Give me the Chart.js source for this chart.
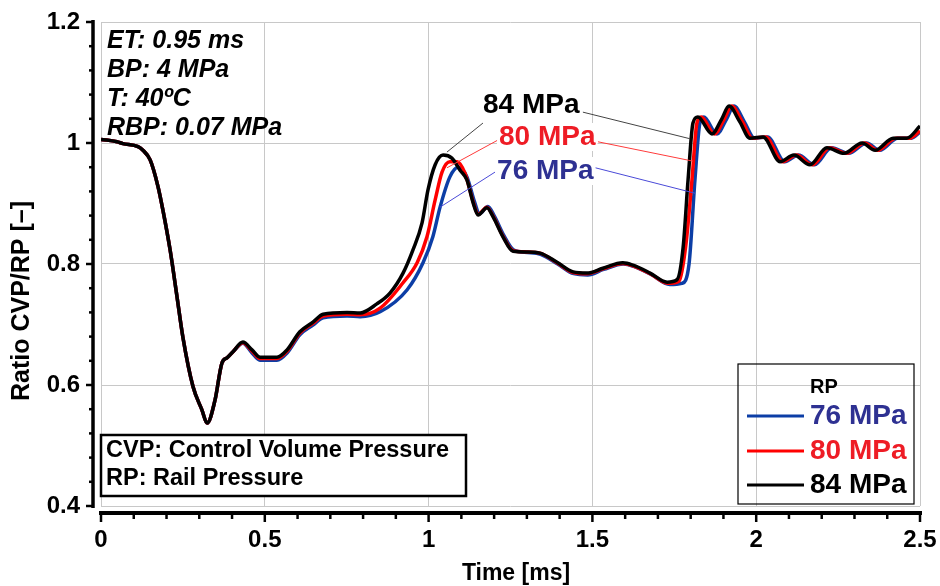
<!DOCTYPE html>
<html><head><meta charset="utf-8">
<script src="https://cdn.jsdelivr.net/npm/chart.js@4.4.1/dist/chart.umd.min.js"></script>
<style>html,body{margin:0;padding:0;background:#fff;}#wrap{width:940px;height:586px;}</style>
</head><body><div id="wrap"><canvas id="c" width="940" height="586"></canvas></div>
<script>
// ---- data ----
const xTicks = [0, 0.5, 1, 1.5, 2, 2.5];
const yTicks = [0.4, 0.6, 0.8, 1, 1.2];
const seriesNames = ['76 MPa', '80 MPa', '84 MPa'];
const xTitle = 'Time [ms]';
const yTitle = 'Ratio CVP/RP [\u2013]';

const t84 = [0,0.049,0.067,0.113,0.128,0.150,0.174,0.189,0.211,0.232,0.250,0.281,0.308,0.324,0.348,0.369,0.385,0.403,0.433,0.461,0.485,0.537,0.568,0.607,0.647,0.678,0.751,0.791,0.842,0.882,0.922,0.952,0.980,0.998,1.020,1.044,1.071,1.096,1.117,1.136,1.151,1.178,1.197,1.227,1.258,1.300,1.340,1.392,1.441,1.484,1.532,1.593,1.624,1.676,1.728,1.758,1.777,1.792,1.807,1.822,1.865,1.895,1.917,1.950,1.981,2.021,2.073,2.115,2.164,2.216,2.268,2.323,2.363,2.418,2.460,2.500];
const v84 = [1.006,1.002,0.999,0.994,0.988,0.972,0.928,0.889,0.823,0.746,0.679,0.597,0.559,0.537,0.575,0.636,0.645,0.655,0.671,0.658,0.646,0.646,0.658,0.688,0.704,0.717,0.720,0.719,0.734,0.752,0.785,0.823,0.868,0.922,0.964,0.980,0.975,0.955,0.939,0.901,0.881,0.893,0.878,0.845,0.821,0.820,0.818,0.803,0.787,0.785,0.793,0.802,0.798,0.785,0.770,0.774,0.828,0.939,1.033,1.043,1.015,1.040,1.061,1.035,1.008,1.010,0.969,0.980,0.964,0.992,0.983,1.000,0.988,1.008,1.008,1.028];

const t80 = [0,0.049,0.067,0.113,0.128,0.150,0.174,0.189,0.211,0.232,0.250,0.281,0.308,0.324,0.348,0.369,0.385,0.403,0.433,0.461,0.485,0.537,0.568,0.607,0.647,0.678,0.751,0.791,0.852,0.922,0.965,0.995,1.020,1.041,1.065,1.087,1.111,1.136,1.151,1.178,1.197,1.227,1.258,1.300,1.340,1.392,1.441,1.484,1.532,1.593,1.624,1.676,1.732,1.765,1.785,1.804,1.819,1.832,1.873,1.903,1.925,1.958,1.989,2.029,2.081,2.123,2.172,2.224,2.276,2.331,2.371,2.426,2.468,2.500];
const v80 = [1.006,1.002,0.999,0.994,0.988,0.972,0.928,0.889,0.823,0.746,0.679,0.597,0.559,0.537,0.575,0.636,0.645,0.655,0.670,0.656,0.644,0.644,0.656,0.686,0.702,0.714,0.717,0.716,0.727,0.769,0.802,0.845,0.906,0.952,0.969,0.969,0.950,0.903,0.882,0.894,0.879,0.846,0.822,0.820,0.818,0.802,0.786,0.784,0.792,0.801,0.797,0.784,0.768,0.772,0.830,0.939,1.033,1.043,1.015,1.040,1.061,1.035,1.008,1.010,0.969,0.980,0.964,0.992,0.983,1.000,0.988,1.008,1.008,1.020];

const t76 = [0,0.049,0.067,0.113,0.128,0.150,0.174,0.189,0.211,0.232,0.250,0.281,0.308,0.324,0.348,0.369,0.385,0.403,0.433,0.461,0.485,0.537,0.568,0.607,0.647,0.678,0.751,0.791,0.852,0.934,0.983,1.013,1.035,1.065,1.090,1.117,1.140,1.155,1.181,1.200,1.230,1.260,1.302,1.342,1.394,1.443,1.486,1.534,1.595,1.626,1.678,1.736,1.773,1.795,1.813,1.828,1.840,1.880,1.910,1.932,1.964,1.995,2.035,2.087,2.129,2.178,2.230,2.282,2.337,2.377,2.432,2.474,2.500];
const v76 = [1.006,1.002,0.999,0.994,0.988,0.972,0.928,0.889,0.823,0.746,0.679,0.597,0.559,0.537,0.575,0.636,0.645,0.655,0.669,0.653,0.641,0.641,0.653,0.683,0.699,0.711,0.714,0.713,0.721,0.757,0.802,0.845,0.894,0.944,0.960,0.944,0.903,0.883,0.895,0.880,0.847,0.823,0.819,0.816,0.800,0.784,0.782,0.791,0.800,0.796,0.783,0.766,0.768,0.800,0.939,1.033,1.043,1.015,1.040,1.061,1.035,1.008,1.010,0.969,0.980,0.964,0.992,0.983,1.000,0.988,1.008,1.008,1.018];

// callout annotations (data coordinates)
const calloutText  = ['84 MPa', '80 MPa', '76 MPa'];
const calloutAt    = [[1.166, 1.0496], [1.215, 0.9967], [1.209, 0.9405]];
const calloutLeftLeader  = [[1.056, 0.985, 1.166, 1.033], [1.056, 0.959, 1.212, 1.005], [1.035, 0.894, 1.203, 0.952]];
const calloutRightLeader = [[1.471, 1.051, 1.798, 1.007], [1.517, 1.002, 1.807, 0.970], [1.502, 0.960, 1.813, 0.917]];

const infoLines = ['ET: 0.95 ms', 'BP: 4 MPa', 'T: 40\u00BAC', 'RBP: 0.07 MPa'];
const noteLines = ['CVP: Control Volume Pressure', 'RP: Rail Pressure'];
const legendTitle = 'RP';

// ---- styles ----
const lineColors = {'76 MPa': '#0c3ea6', '80 MPa': '#ff0000', '84 MPa': '#000000'};
const textColors = {'76 MPa': '#2e3192', '80 MPa': '#ee1c25', '84 MPa': '#000000'};
const leaderColors = {'76 MPa': '#4a4ad8', '80 MPa': '#ff3b3b', '84 MPa': '#444444'};
const FONT = "'Liberation Sans', Arial, sans-serif";

function pts(t, v) { return t.map((x, i) => ({x: x, y: v[i]})); }
function fmt(v) { return String(Math.round(v * 100) / 100); }

const deco = {
  id: 'deco',
  afterDatasetsDraw(chart) {
    const {ctx, scales: {x, y}} = chart;
    ctx.save();
    calloutText.forEach((txt, i) => {
      ctx.strokeStyle = leaderColors[txt];
      ctx.lineWidth = 1;
      [calloutLeftLeader[i], calloutRightLeader[i]].forEach(L => {
        ctx.beginPath();
        ctx.moveTo(x.getPixelForValue(L[0]), y.getPixelForValue(L[1]));
        ctx.lineTo(x.getPixelForValue(L[2]), y.getPixelForValue(L[3]));
        ctx.stroke();
      });
    });
    calloutText.forEach((txt, i) => {
      ctx.font = 'bold 28px ' + FONT;
      const px = x.getPixelForValue(calloutAt[i][0]);
      const py = y.getPixelForValue(calloutAt[i][1]);
      const w = ctx.measureText(txt).width;
      ctx.fillStyle = '#fff';
      ctx.fillRect(px - 2, py - 22, w + 4, 28);
      ctx.fillStyle = textColors[txt];
      ctx.textBaseline = 'alphabetic';
      ctx.textAlign = 'left';
      ctx.fillText(txt, px, py);
    });
    ctx.fillStyle = '#000';
    ctx.font = 'italic bold 25px ' + FONT;
    const base = [48, 77, 106, 135];
    infoLines.forEach((s, i) => ctx.fillText(s, 107, base[i]));
    ctx.fillStyle = '#fff';
    ctx.fillRect(101, 435, 365, 61);
    ctx.strokeStyle = '#000';
    ctx.lineWidth = 2.5;
    ctx.strokeRect(101, 435, 365, 61);
    ctx.fillStyle = '#000';
    ctx.font = 'bold 23.5px ' + FONT;
    ctx.fillText(noteLines[0], 106, 457);
    ctx.fillText(noteLines[1], 106, 485);
    ctx.lineWidth = 1.2;
    ctx.strokeStyle = '#000';
    ctx.strokeRect(738, 364, 176, 140);
    ctx.font = 'bold 20px ' + FONT;
    ctx.fillStyle = '#000';
    ctx.textBaseline = 'middle';
    ctx.fillText(legendTitle, 810, 387);
    const ly = [416, 451, 485];
    seriesNames.forEach((n, i) => {
      ctx.strokeStyle = lineColors[n];
      ctx.lineWidth = 3;
      ctx.beginPath();
      ctx.moveTo(747, ly[i]); ctx.lineTo(804, ly[i]);
      ctx.stroke();
      ctx.fillStyle = textColors[n];
      ctx.font = 'bold 28px ' + FONT;
      ctx.fillText(n, 810, ly[i]);
    });
    ctx.restore();
  },
  afterDraw(chart) {
    const {ctx, scales: {x, y}} = chart;
    ctx.save();
    ctx.strokeStyle = '#000';
    ctx.lineCap = 'butt';
    const ax = 93, ay = 513;
    ctx.lineWidth = 3.5;
    ctx.beginPath();
    ctx.moveTo(ax, y.getPixelForValue(1.2) - 2);
    ctx.lineTo(ax, y.getPixelForValue(0.4) + 2);
    ctx.stroke();
    ctx.lineWidth = 2.5;
    for (let k = 0; k <= 20; k++) {
      const v = 0.4 + k * 0.04;
      const py = y.getPixelForValue(v);
      const major = k % 5 === 0;
      ctx.beginPath();
      ctx.moveTo(ax, py);
      ctx.lineTo(ax - (major ? 7 : 4), py);
      ctx.stroke();
    }
    ctx.lineWidth = 4;
    ctx.beginPath();
    ctx.moveTo(x.getPixelForValue(0) - 2, ay);
    ctx.lineTo(x.getPixelForValue(2.5) + 2, ay);
    ctx.stroke();
    ctx.lineWidth = 2.5;
    for (let k = 0; k <= 25; k++) {
      const v = k * 0.1;
      const px = x.getPixelForValue(v);
      const major = k % 5 === 0;
      ctx.beginPath();
      ctx.moveTo(px, ay);
      ctx.lineTo(px, ay + (major ? 9 : 6));
      ctx.stroke();
    }
    // axis titles
    ctx.fillStyle = '#000';
    ctx.textAlign = 'center';
    ctx.textBaseline = 'middle';
    ctx.font = 'bold 23px ' + FONT;
    ctx.fillText(xTitle, 516, 574);
    ctx.save();
    ctx.translate(22, 301);
    ctx.rotate(-Math.PI / 2);
    ctx.font = 'bold 25px ' + FONT;
    ctx.fillText(yTitle, 0, 0);
    ctx.restore();
    ctx.restore();
  }
};

const tickFont = {family: FONT, size: 24, weight: 'bold'};

new Chart(document.getElementById('c').getContext('2d'), {
  type: 'line',
  data: {
    datasets: [
      {label: '84 MPa', data: pts(t84, v84), borderColor: lineColors['84 MPa'], borderWidth: 3.5, pointRadius: 0, cubicInterpolationMode: 'monotone', fill: false},
      {label: '80 MPa', data: pts(t80, v80), borderColor: lineColors['80 MPa'], borderWidth: 3.5, pointRadius: 0, cubicInterpolationMode: 'monotone', fill: false},
      {label: '76 MPa', data: pts(t76, v76), borderColor: lineColors['76 MPa'], borderWidth: 3.5, pointRadius: 0, cubicInterpolationMode: 'monotone', fill: false}
    ]
  },
  options: {
    responsive: false, animation: false, devicePixelRatio: 1,
    layout: {padding: {top: 22, right: 20, left: 0, bottom: 0}},
    plugins: {legend: {display: false}, tooltip: {enabled: false}},
    scales: {
      x: {
        type: 'linear', min: 0, max: 2.5,
        afterBuildTicks: s => { s.ticks = xTicks.map(v => ({value: v})); },
        afterFit: s => { s.height = 80; s.paddingLeft = 0; s.paddingRight = 0; },
        grid: {color: '#c8c8c8', lineWidth: 1, drawTicks: false},
        border: {display: false},
        ticks: {padding: 20, font: tickFont, color: '#000', maxRotation: 0, callback: v => fmt(v)},
        title: {display: false}
      },
      y: {
        type: 'linear', min: 0.4, max: 1.2,
        afterBuildTicks: s => { s.ticks = yTicks.map(v => ({value: v})); },
        afterFit: s => { s.width = 101; s.paddingTop = 0; s.paddingBottom = 0; },
        grid: {color: '#c8c8c8', lineWidth: 1, drawTicks: false},
        border: {display: false},
        ticks: {padding: 21, font: tickFont, color: '#000', callback: v => fmt(v)},
        title: {display: false}
      }
    }
  },
  plugins: [deco]
});
</script>
</body></html>
